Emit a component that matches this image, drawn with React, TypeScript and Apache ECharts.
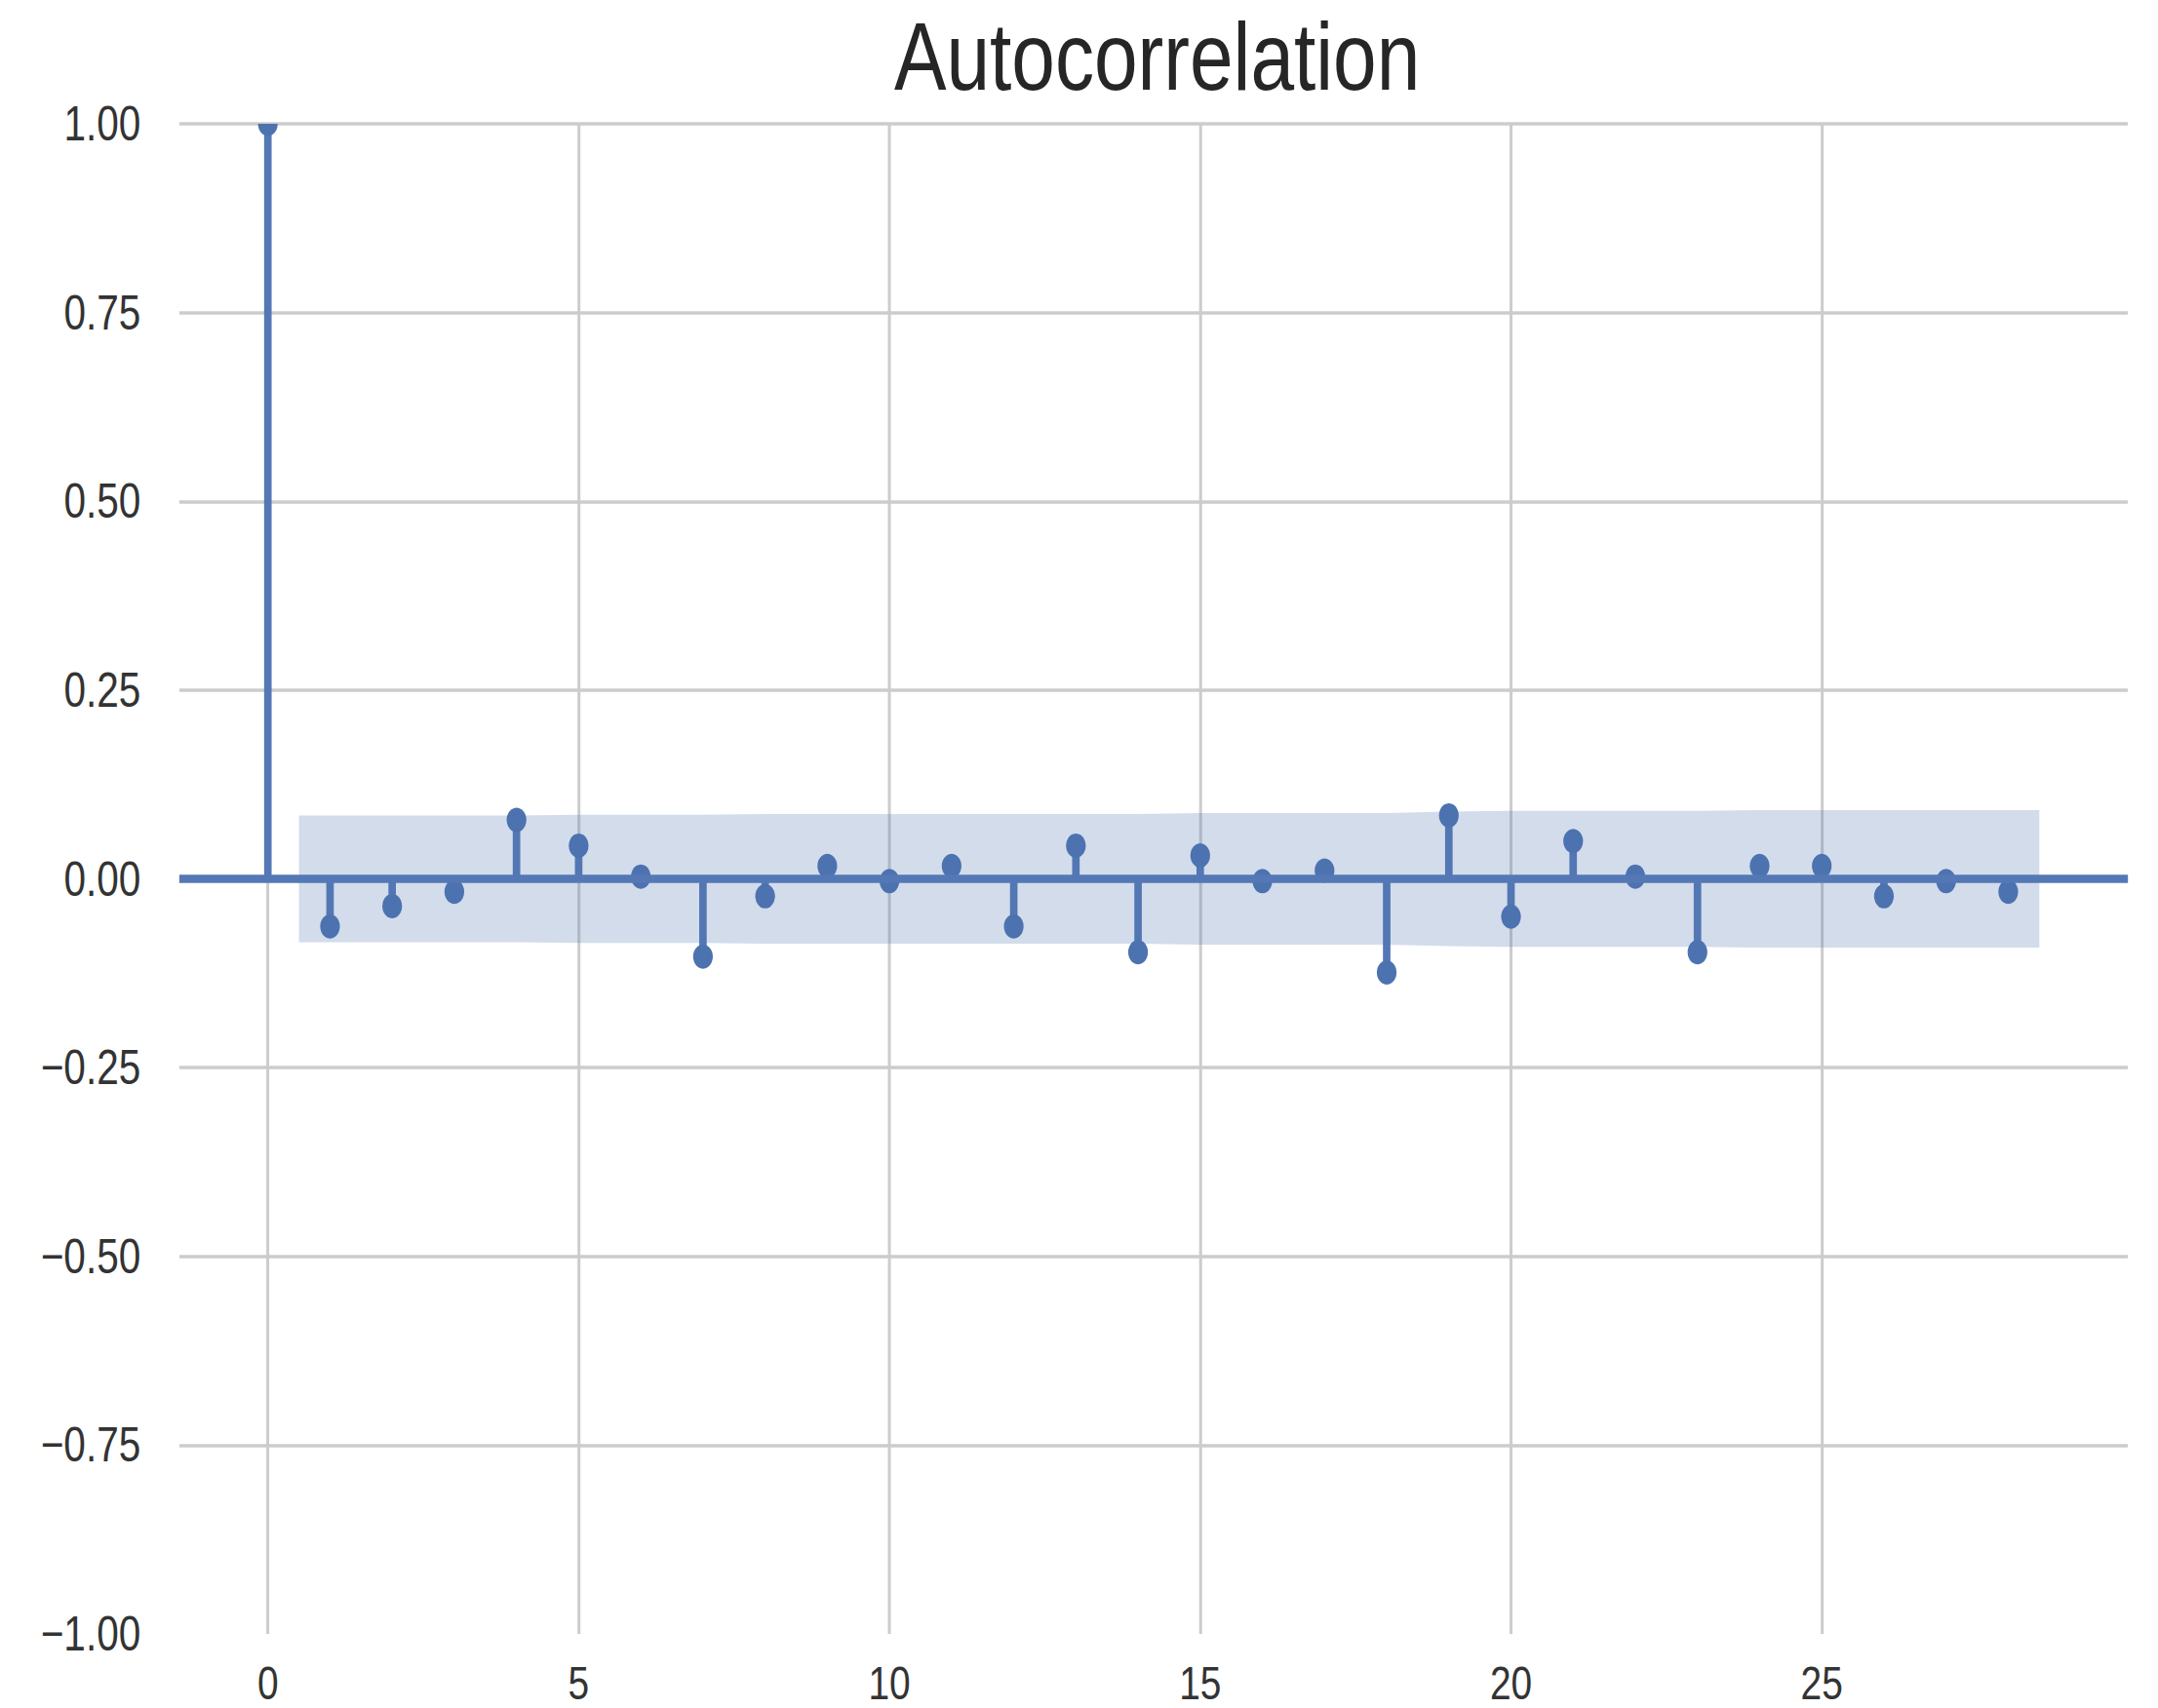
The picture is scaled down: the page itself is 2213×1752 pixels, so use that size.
import React, { useEffect, useRef } from "react";
import * as echarts from "echarts";

// Lags shown on the x axis
const lags: number[] = [0, 1, 2, 3, 4, 5, 6, 7, 8, 9, 10, 11, 12, 13, 14, 15, 16, 17, 18, 19, 20, 21, 22, 23, 24, 25, 26, 27, 28];

// Autocorrelation value at each lag
const acfValues: number[] = [
  1.0, -0.063, -0.036, -0.017, 0.078, 0.044, 0.003, -0.103, -0.023, 0.017,
  -0.003, 0.017, -0.063, 0.044, -0.097, 0.031, -0.003, 0.011, -0.124, 0.084,
  -0.05, 0.05, 0.003, -0.097, 0.017, 0.017, -0.023, -0.003, -0.017,
];

// x positions of the confidence band's outline (band spans 0.5 .. 28.5)
const bandX: number[] = [0.5, 2, 3, 4, 5, 6, 7, 8, 9, 10, 11, 12, 13, 14, 15, 16, 17, 18, 19, 20, 21, 22, 23, 24, 25, 26, 27, 28.5];
// Half-width of the confidence band at those positions
const bandHalfWidth: number[] = [
  0.084, 0.084, 0.084, 0.084, 0.085, 0.085, 0.085, 0.086, 0.086, 0.086,
  0.086, 0.086, 0.086, 0.086, 0.087, 0.087, 0.087, 0.087, 0.089, 0.09,
  0.09, 0.09, 0.09, 0.091, 0.091, 0.091, 0.091, 0.091,
];

const yTicks: number[] = [-1, -0.75, -0.5, -0.25, 0, 0.25, 0.5, 0.75, 1];
const xTickLabels: number[] = [0, 5, 10, 15, 20, 25];

const TITLE = "Autocorrelation";
const BLUE = "#4c72b0";
const STEM = "#5478b5";
const FONT = "'Liberation Sans', Arial, sans-serif";

// The reference picture is horizontally compressed; reproduce that with a scaleX
const SQUEEZE = 0.81;
const PAGE_W = 2213;
const PAGE_H = 1752;
const CHART_W = Math.round(PAGE_W / SQUEEZE);

export default function App() {
  const ref = useRef<HTMLDivElement>(null);

  useEffect(() => {
    if (!ref.current) return;
    const chart = echarts.init(ref.current, undefined, { renderer: "svg" });

    const stemData = lags.map((l, i) => [l, acfValues[i]]);
    const bandData = bandX.map((x, i) => [x, -bandHalfWidth[i], bandHalfWidth[i]]);

    const option: any = {
      animation: false,
      backgroundColor: "#ffffff",
      title: {
        text: TITLE,
        left: 1460,
        top: 3,
        textAlign: "center",
        textStyle: { fontFamily: FONT, fontSize: 99, fontWeight: "normal", color: "#262626" },
      },
      grid: { left: 227, right: 38, top: 127, bottom: 76, containLabel: false },
      xAxis: {
        type: "value",
        min: -1.425,
        max: 29.925,
        axisLine: { show: false },
        axisTick: { show: false },
        axisLabel: {
          showMinLabel: false,
          showMaxLabel: false,
          margin: 26,
          fontFamily: FONT,
          fontSize: 48,
          color: "#333333",
          formatter: (v: number) => (xTickLabels.indexOf(v) >= 0 ? String(v) : ""),
        },
        splitLine: {
          show: true,
          showMinLine: false,
          showMaxLine: false,
          lineStyle: { color: "#cccccc", width: 3.7 },
        },
      },
      yAxis: {
        type: "value",
        min: yTicks[0],
        max: yTicks[yTicks.length - 1],
        interval: 0.25,
        axisLine: { show: false },
        axisTick: { show: false },
        axisLabel: {
          margin: 49,
          fontFamily: FONT,
          fontSize: 50,
          color: "#333333",
          formatter: (v: number) => (v < 0 ? "\u2212" + Math.abs(v).toFixed(2) : v.toFixed(2)),
        },
        splitLine: {
          show: true,
          showMinLine: false,
          lineStyle: { color: "#cccccc", width: 3.5 },
        },
      },
      series: [
        {
          type: "custom",
          name: "acf",
          clip: true,
          z: 2,
          data: stemData,
          renderItem: (params: any, api: any) => {
            const x = api.value(0);
            const y = api.value(1);
            const p0 = api.coord([x, 0]);
            const p1 = api.coord([x, y]);
            return {
              type: "group",
              children: [
                {
                  type: "line",
                  shape: { x1: p0[0], y1: p0[1], x2: p1[0], y2: p1[1] },
                  style: { stroke: STEM, lineWidth: 9.5 },
                },
                {
                  type: "circle",
                  shape: { cx: p1[0], cy: p1[1], r: 12.5 },
                  style: { fill: BLUE },
                },
              ],
            };
          },
          markLine: {
            silent: true,
            symbol: "none",
            label: { show: false },
            lineStyle: { color: STEM, width: 8.5, type: "solid" },
            data: [{ yAxis: 0 }],
          },
        },
        {
          type: "custom",
          name: "confint",
          clip: true,
          z: 3,
          data: bandData,
          renderItem: (params: any, api: any) => {
            if (params.dataIndex !== 0) return null;
            const upper: number[][] = [];
            const lower: number[][] = [];
            for (let i = 0; i < bandData.length; i++) {
              upper.push(api.coord([bandData[i][0], bandData[i][2]]));
              lower.push(api.coord([bandData[i][0], bandData[i][1]]));
            }
            const pts = upper.concat(lower.reverse());
            return {
              type: "polygon",
              shape: { points: pts },
              style: { fill: "rgba(76,114,176,0.25)" },
            };
          },
        },
      ],
    };

    chart.setOption(option);
    return () => chart.dispose();
  }, []);

  return (
    <div
      style={{
        position: "fixed",
        left: 0,
        top: 0,
        width: PAGE_W,
        height: PAGE_H,
        overflow: "hidden",
        background: "#fff",
      }}
    >
      <div
        ref={ref}
        style={{
          width: CHART_W,
          height: PAGE_H,
          transform: `scaleX(${SQUEEZE})`,
          transformOrigin: "0 0",
        }}
      />
    </div>
  );
}
